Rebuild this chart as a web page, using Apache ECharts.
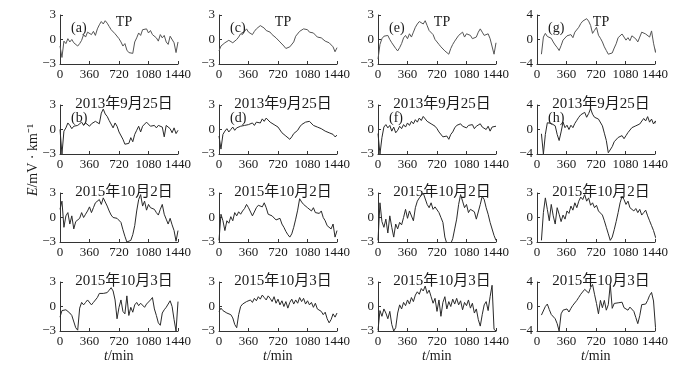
<!DOCTYPE html>
<html>
<head>
<meta charset="utf-8">
<script src="https://cdn.jsdelivr.net/npm/echarts@6/dist/echarts.min.js"></script>
<style>
  html, body { margin: 0; padding: 0; background: #fff; }
  #chart { width: 688px; height: 372px; }
</style>
</head>
<body>
<div id="chart"></div>
<script>
// sampling times (min), columns 1-3 and the shifted column 4
const tMin = [0,24,48,72,96,120,144,168,192,216,240,264,288,312,336,360,384,408,432,456,480,504,528,552,576,600,624,648,672,696,720,744,768,792,816,840,864,888,912,936,960,984,1008,1032,1056,1080,1104,1128,1152,1176,1200,1224,1248,1272,1296,1320,1344,1368,1392,1416,1440]
const tMin4 = [54,78,102,126,150,174,198,222,246,270,294,318,342,366,390,414,438,462,486,510,534,558,582,606,630,654,678,702,726,750,774,798,822,846,870,894,918,942,966,990,1014,1038,1062,1086,1110,1134,1158,1182,1206,1230,1254,1278,1302,1326,1350,1374,1398,1422,1446,1470,1494]

const rowTitles = ['TP', '2013年9月25日', '2015年10月2日', '2015年10月3日']
const panelLetters = [['(a)', '(c)', '(e)', '(g)'], ['(b)', '(d)', '(f)', '(h)']]

// row 1: TP
const panelA = [-0.8,-2.2,-0.2,-0.5,0.1,-0.3,0.0,-0.4,-0.6,-0.8,-0.5,-0.1,0.6,0.3,0.9,1.1,0.6,1.0,0.5,1.3,1.8,2.2,1.9,2.3,2.0,1.6,1.2,1.4,0.7,0.9,0.1,-0.3,-0.8,-0.5,-1.3,-1.6,-1.4,-1.7,-0.3,0.2,0.8,0.5,1.2,1.0,1.3,0.8,1.1,0.6,0.8,0.2,-0.2,0.6,0.2,0.5,-0.3,-0.6,0.4,0.5,-0.4,-1.6,-0.3]
const panelC = [-1.4,-0.8,-0.6,-0.4,-0.3,-0.1,-0.2,-0.4,-0.2,0.0,0.3,0.7,0.8,1.0,1.3,0.9,0.9,0.6,1.0,1.3,1.5,1.7,1.5,1.4,1.1,1.0,0.9,0.6,0.7,0.2,0.1,-0.3,-0.4,-0.8,-1.1,-1.2,-0.9,-0.8,-0.3,0.4,0.6,1.0,1.2,1.3,1.1,1.2,0.9,1.0,0.8,0.6,0.3,0.5,0.2,0.0,-0.2,-0.3,-0.4,-0.5,-0.9,-1.5,-1.0]
const panelE = [-2.4,-0.6,0.1,0.4,0.3,0.5,0.0,-0.4,-0.6,-1.1,-1.4,-1.0,-0.5,0.2,0.5,0.1,0.7,0.3,0.9,1.5,1.9,2.2,2.4,1.9,2.3,1.7,1.1,0.9,0.6,0.0,-0.3,-0.6,-0.9,-1.0,-1.4,-1.6,-1.8,-1.1,-0.6,-0.2,-0.1,0.5,0.3,0.9,0.3,0.7,0.5,0.5,0.1,-0.1,0.3,0.9,1.3,0.9,0.5,0.3,0.7,0.1,0.2,-1.8,-0.4]
const panelG = [-2.4,0.4,1.0,0.5,0.7,0.2,-0.4,-0.9,-1.3,-1.8,-1.0,-0.1,-0.2,0.6,0.3,0.8,0.3,1.2,1.5,2.0,2.6,3.0,2.8,3.4,3.0,2.3,1.0,1.5,2.0,0.7,0.2,-0.4,-1.2,-1.8,-2.4,-2.7,-2.2,-1.4,-0.7,0.3,0.0,0.9,0.4,-0.1,0.3,-0.2,0.6,0.7,0.1,-0.4,0.4,1.2,1.5,0.9,1.2,0.4,1.4,-0.6,-2.1,-1.8,0.6]

// row 2: 2013-09-25
const panelB = [0.0,-3.0,-0.2,0.2,0.8,0.5,0.1,0.4,0.2,0.5,0.3,0.9,0.5,0.8,0.6,0.4,0.7,0.6,1.0,1.2,0.7,2.0,2.5,1.9,1.6,1.1,1.3,0.2,0.8,0.4,-0.3,-0.1,-1.2,-1.8,-2.0,-1.7,-1.0,-1.5,-0.6,-0.1,0.4,-0.3,0.4,0.6,0.9,1.0,0.4,0.6,0.5,0.2,0.5,0.6,0.3,-0.9,0.5,0.3,0.1,-0.4,0.2,-0.5,-0.1]
const panelD = [-0.8,-2.4,-0.6,-0.2,0.1,-0.3,0.0,0.3,-0.1,0.2,0.0,0.4,0.2,0.5,0.3,0.6,0.4,0.8,0.5,0.9,1.1,0.8,1.3,1.0,1.4,1.2,0.9,1.1,0.6,0.8,0.3,0.1,-0.4,-0.2,-0.8,-1.0,-1.2,-0.9,-0.5,-0.7,-0.1,0.3,0.6,0.4,0.9,0.7,1.0,0.8,0.5,0.7,0.3,0.4,0.1,0.2,-0.2,-0.1,-0.4,-0.3,-0.6,-0.9,-0.7]
const panelF = [-0.5,-3.0,-1.0,0.3,0.6,0.2,0.5,-0.2,0.3,-0.4,-0.1,0.4,0.1,0.6,0.3,0.8,0.5,1.0,0.7,1.2,0.9,1.4,1.1,1.6,1.3,1.0,1.2,0.7,0.9,0.4,0.1,-0.3,-0.5,-0.9,-1.1,-0.8,-1.2,-0.6,-0.3,0.2,0.5,0.3,0.7,0.4,0.6,0.2,0.5,0.3,0.6,0.1,0.4,0.2,0.7,0.3,0.5,0.0,0.4,-0.2,0.3,0.1,0.4]
const panelH = [-0.7,-4.0,-0.8,1.1,1.4,1.0,1.2,0.6,-0.8,-1.8,-0.4,1.2,0.3,0.7,0.0,0.7,0.3,1.0,1.5,2.0,2.4,2.3,2.8,2.0,2.6,3.4,2.5,2.0,2.3,1.7,1.4,0.6,-0.6,-1.8,-3.8,-3.5,-2.8,-2.0,-1.7,-1.3,-1.5,-1.0,-1.5,-1.0,-0.5,-0.2,0.3,0.0,0.6,0.4,0.9,1.2,1.8,1.4,2.1,1.2,1.7,0.9,1.4,0.4,0.9]

// row 3: 2015-10-02
const panelI = [1.0,2.0,-1.2,0.2,0.6,-0.8,0.2,-1.4,-0.5,-0.3,-0.1,0.6,0.0,0.4,0.8,1.3,0.6,1.2,1.8,1.6,2.2,1.6,2.4,2.6,1.4,0.8,0.3,0.0,0.2,-0.1,-0.2,-0.6,-1.5,-2.3,-3.0,-3.1,-2.8,-2.1,-1.0,0.8,2.2,2.8,1.4,2.0,0.9,1.6,1.2,1.4,1.0,0.6,0.3,1.0,1.6,0.4,-0.2,-0.8,-0.1,-0.9,-1.6,-2.9,-1.6]
const panelJ = [-2.8,0.4,-0.4,-1.6,-0.4,-0.7,0.1,-0.4,0.6,0.2,0.7,0.4,0.8,1.1,1.6,1.2,1.4,0.2,0.3,1.2,1.5,1.6,1.3,1.8,1.2,0.4,0.6,0.2,0.0,-0.3,-0.2,-0.1,-0.8,-1.2,-1.7,-2.1,-2.4,-2.0,-1.2,-0.2,0.9,2.3,1.9,1.6,1.4,1.2,1.4,0.8,1.2,0.6,0.4,0.5,0.8,0.0,-0.4,-1.0,-0.8,-1.4,-0.8,-2.4,-1.6]
const panelK = [-2.8,1.8,-0.5,-1.2,-0.2,-1.9,0.2,-1.2,-2.4,-0.8,-1.4,-0.6,-0.9,0.0,1.0,-0.1,0.8,0.6,-0.4,1.2,2.0,2.4,2.7,3.0,2.9,1.6,1.2,1.8,1.0,1.3,1.2,0.6,0.0,-0.6,-2.4,-3.2,-3.4,-3.2,-2.6,-1.4,-0.2,1.6,2.8,2.0,1.2,1.6,0.6,1.0,1.0,0.7,-0.2,-0.4,1.6,2.6,2.2,1.2,0.4,-0.6,-0.8,-2.2,-2.8]
const panelL = [-2.8,0.6,2.4,1.0,-0.4,1.6,0.2,-0.8,1.2,0.4,-0.5,0.3,-0.2,0.8,0.5,1.4,0.9,1.8,1.2,2.0,2.5,2.2,2.8,2.0,2.4,1.5,1.8,1.2,1.5,0.8,1.0,0.3,-0.4,-1.2,-2.0,-2.8,-2.4,-1.5,-0.5,0.6,1.8,2.6,2.2,1.6,2.0,1.2,1.4,0.8,1.1,0.6,1.0,0.3,0.6,0.9,0.2,-0.4,-1.0,-1.6,-2.4,-2.8,-1.8]

// row 4: 2015-10-03
const panelM = [-1.3,-0.5,-0.7,-0.4,-0.6,-0.8,-1.1,-1.3,-2.6,-2.9,-0.2,0.5,0.2,0.5,0.8,0.9,0.2,0.5,0.7,1.1,1.6,1.7,1.6,1.8,1.7,2.0,2.3,1.9,0.8,-1.5,-0.1,0.8,-0.6,-0.9,1.3,-1.1,-0.1,-0.7,0.2,0.5,0.1,0.4,0.6,-0.1,0.3,0.1,0.8,1.1,-0.3,-1.1,-2.0,-2.3,-0.8,-0.4,-0.1,-0.3,0.7,0.0,-1.6,-3.0,0.6]
const panelN = [-0.6,-0.2,-0.5,-0.3,-0.8,-0.6,-1.0,-1.4,-2.2,-2.6,-1.0,0.0,0.3,0.1,0.6,0.4,0.8,0.5,1.0,0.7,1.2,0.9,1.4,1.1,0.8,1.3,1.0,0.6,1.2,0.4,0.9,0.2,0.7,0.0,0.6,-0.2,0.5,0.9,0.3,0.8,0.4,1.1,0.6,1.0,0.3,0.7,0.2,0.5,-0.1,0.4,-0.3,-0.1,-0.6,-1.0,-0.7,-1.5,-2.0,-1.6,-0.9,-1.3,-0.8]
const panelO = [-2.9,-0.5,-1.2,-0.3,-0.8,-1.5,-0.6,-2.2,-3.0,-2.6,-0.8,0.2,-0.3,0.5,0.1,0.8,0.3,1.1,0.6,1.4,1.8,1.5,2.2,1.9,2.5,1.6,2.0,1.2,0.4,1.0,-0.6,0.8,-1.2,0.5,1.2,-0.3,0.6,0.0,0.9,0.3,1.0,0.2,0.7,-0.4,0.5,0.1,0.8,-0.2,0.4,-0.8,-0.3,-1.6,-2.4,-1.0,0.2,0.6,-0.5,1.2,2.6,-2.8,-3.0]
const panelP = [-1.4,-1.2,0.0,0.4,-0.5,-1.3,-1.4,-2.0,-2.8,-4.0,-1.2,-0.6,-0.7,-0.4,-0.9,-0.3,0.2,-0.1,1.0,1.5,2.0,2.3,2.8,2.6,2.2,3.1,3.6,2.0,0.5,-1.2,1.0,-0.2,1.0,-0.6,0.3,3.6,-0.3,0.5,0.3,0.6,0.4,0.7,-0.2,0.0,-0.6,-0.1,-0.4,-0.8,-1.8,-2.8,-1.5,0.3,0.6,0.4,1.0,1.8,2.3,0.9,-3.4,-4.0,2.4]

const panels = [
  [panelA, panelC, panelE, panelG],
  [panelB, panelD, panelF, panelH],
  [panelI, panelJ, panelK, panelL],
  [panelM, panelN, panelO, panelP]
]
const yLimits = [
  [3, 3, 3, 4],
  [3, 3, 3, 4],
  [3, 3, 3, 3],
  [3, 3, 3, 4]
]

const colLeft = [60, 219, 378, 537]
const rowTop = [15, 105, 193, 282]
const plotW = 118
const plotH = 49
const serif = 'Liberation Serif, Noto Sans CJK SC, serif'
const axisColor = '#333'
const textColor = '#1a1a1a'

const chart = echarts.init(document.getElementById('chart'))

const grid = [], xAxis = [], yAxis = [], series = [], title = [], graphic = []

panels.forEach((row, r) => {
  row.forEach((vals, c) => {
    const idx = grid.length
    const lim = yLimits[r][c]
    const times = c === 3 ? tMin4 : tMin
    grid.push({ left: colLeft[c], top: rowTop[r], width: plotW, height: plotH })
    xAxis.push({
      type: 'value', gridIndex: idx, min: 0, max: 1440, interval: 360,
      axisLine: { onZero: false, lineStyle: { color: axisColor, width: 1 } },
      axisTick: { inside: true, length: 3, lineStyle: { color: axisColor } },
      axisLabel: {
        color: textColor, fontFamily: serif, fontSize: 13, margin: 4,
        formatter: v => String(v)
      },
      splitLine: { show: false }
    })
    yAxis.push({
      type: 'value', gridIndex: idx, min: -lim, max: lim, interval: lim,
      axisLine: { show: true, onZero: false, lineStyle: { color: axisColor, width: 1 } },
      axisTick: { show: true, inside: true, length: 3, lineStyle: { color: axisColor } },
      axisLabel: {
        color: textColor, fontFamily: serif, fontSize: 13, margin: 4,
        formatter: v => String(v).replace('-', '\u2212')
      },
      splitLine: { show: false }
    })
    series.push({
      type: 'line', xAxisIndex: idx, yAxisIndex: idx,
      data: times.map((t, k) => [t, vals[k]]),
      showSymbol: false, silent: true, animation: false,
      clip: c !== 3,
      lineStyle: { color: r === 0 ? '#555' : '#2a2a2a', width: 1 }
    })
    // row title (TP / date)
    title.push({
      text: rowTitles[r],
      left: colLeft[c] + plotW / 2,
      top: r === 0 ? 10 : rowTop[r] - 13,
      textAlign: 'center',
      textStyle: { fontFamily: serif, fontSize: r === 0 ? 14 : 15, fontWeight: 'normal', color: textColor }
    })
    if (r < 2) {
      title.push({
        text: panelLetters[r][c],
        left: colLeft[c] + 6,
        top: rowTop[r] + 1,
        textStyle: { fontFamily: serif, fontSize: 14, fontWeight: 'normal', color: textColor }
      })
    }
    if (r === 3) {
      graphic.push({
        type: 'text', left: colLeft[c] + plotW / 2 - 15, top: 349,
        style: {
          text: '{i|t}/min',
          font: '14px ' + serif, fill: textColor,
          rich: { i: { fontStyle: 'italic', fontFamily: serif, fontSize: 14, fill: textColor } }
        }
      })
    }
  })
})

graphic.push({
  type: 'text', x: 33, y: 160, rotation: Math.PI / 2,
  style: {
    text: '{i|E}/mV \u00b7 km\u207b\u00b9',
    font: '14px ' + serif, fill: textColor,
    align: 'center', verticalAlign: 'middle',
    rich: { i: { fontStyle: 'italic', fontFamily: serif, fontSize: 14, fill: textColor } }
  }
})

chart.setOption({
  animation: false,
  backgroundColor: '#fff',
  title, grid, xAxis, yAxis, series, graphic
})
</script>
</body>
</html>
